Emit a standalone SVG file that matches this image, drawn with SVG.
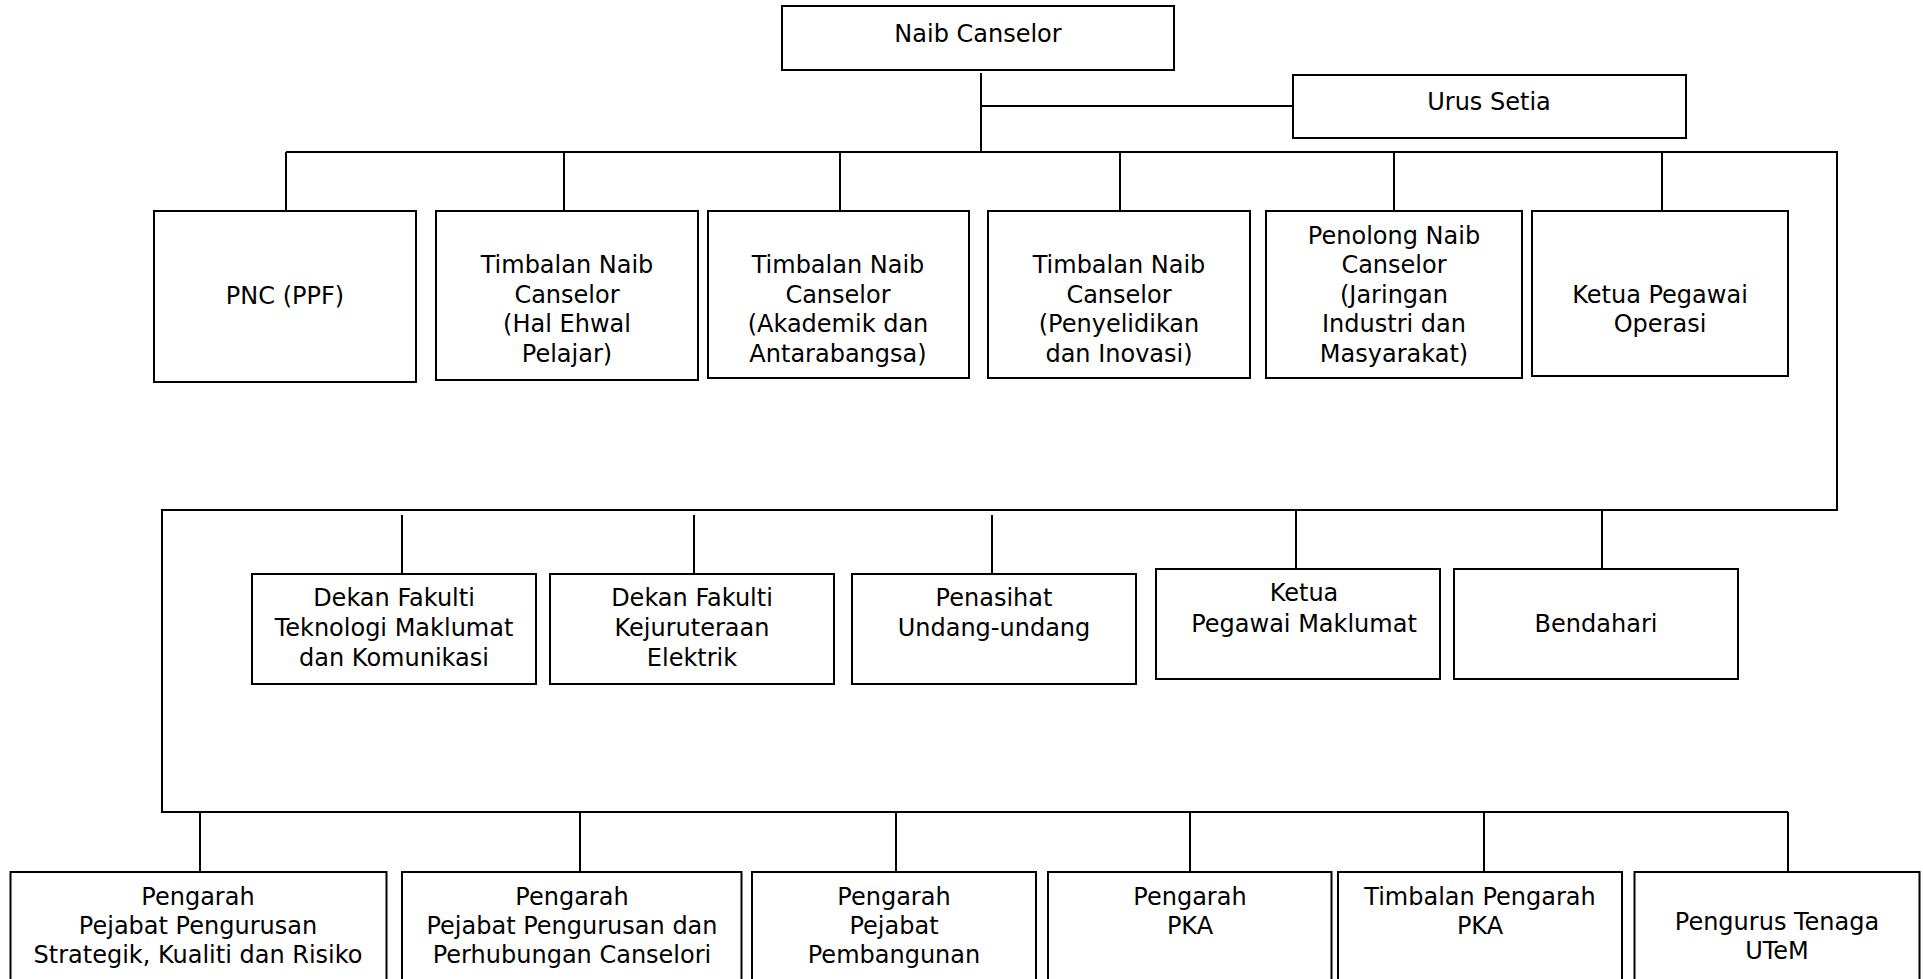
<svg xmlns="http://www.w3.org/2000/svg" width="1923" height="979" viewBox="0 0 1923 979">
  <style>
    .box { fill: #ffffff; stroke: #000000; stroke-width: 2; }
    .lbl { font-family: "DejaVu Sans", Verdana, sans-serif; font-size: 24px; fill: #000000; text-anchor: middle; }
    .wire { fill: none; stroke: #000000; stroke-width: 2; }
  </style>
  <rect x="0" y="0" width="1923" height="979" fill="#ffffff"/>

  <!-- connectors -->
  <g id="connectors" class="wire">
    <!-- Naib Canselor down to the first bus, with Urus Setia branch -->
    <line x1="981" y1="73" x2="981" y2="152"/>
    <line x1="981" y1="106" x2="1293" y2="106"/>
    <!-- first bus and drops -->
    <line x1="286" y1="152" x2="1837" y2="152"/>
    <line x1="286" y1="152" x2="286" y2="211"/>
    <line x1="564" y1="152" x2="564" y2="211"/>
    <line x1="840" y1="152" x2="840" y2="211"/>
    <line x1="1120" y1="152" x2="1120" y2="211"/>
    <line x1="1394" y1="152" x2="1394" y2="211"/>
    <line x1="1662" y1="152" x2="1662" y2="211"/>
    <!-- run down the right side to the second bus -->
    <line x1="1837" y1="151" x2="1837" y2="510"/>
    <line x1="162" y1="510" x2="1838" y2="510"/>
    <line x1="402" y1="515" x2="402" y2="574"/>
    <line x1="694" y1="515" x2="694" y2="574"/>
    <line x1="992" y1="515" x2="992" y2="574"/>
    <line x1="1296" y1="510" x2="1296" y2="569"/>
    <line x1="1602" y1="510" x2="1602" y2="569"/>
    <!-- run down the left side to the third bus -->
    <line x1="162" y1="509" x2="162" y2="812"/>
    <line x1="161" y1="812" x2="1788" y2="812"/>
    <line x1="200" y1="812" x2="200" y2="872"/>
    <line x1="580" y1="812" x2="580" y2="872"/>
    <line x1="896" y1="812" x2="896" y2="872"/>
    <line x1="1190" y1="812" x2="1190" y2="872"/>
    <line x1="1484" y1="812" x2="1484" y2="872"/>
    <line x1="1788" y1="812" x2="1788" y2="872"/>
  </g>

  <!-- top level -->
  <g id="naib-canselor">
    <rect class="box" x="782" y="6" width="392" height="64"/>
    <text class="lbl" x="978" y="42">Naib Canselor</text>
  </g>
  <g id="urus-setia">
    <rect class="box" x="1293" y="75" width="393" height="63"/>
    <text class="lbl" x="1489" y="110">Urus Setia</text>
  </g>

  <!-- first row -->
  <g id="pnc-ppf">
    <rect class="box" x="154" y="211" width="262" height="171"/>
    <text class="lbl" x="285" y="304">PNC (PPF)</text>
  </g>
  <g id="tnc-hep">
    <rect class="box" x="436" y="211" width="262" height="169"/>
    <text class="lbl" x="567" y="273">Timbalan Naib</text>
    <text class="lbl" x="567" y="303">Canselor</text>
    <text class="lbl" x="567" y="332">(Hal Ehwal</text>
    <text class="lbl" x="567" y="362">Pelajar)</text>
  </g>
  <g id="tnc-akademik">
    <rect class="box" x="708" y="211" width="261" height="167"/>
    <text class="lbl" x="838" y="273">Timbalan Naib</text>
    <text class="lbl" x="838" y="303">Canselor</text>
    <text class="lbl" x="838" y="332">(Akademik dan</text>
    <text class="lbl" x="838" y="362">Antarabangsa)</text>
  </g>
  <g id="tnc-penyelidikan">
    <rect class="box" x="988" y="211" width="262" height="167"/>
    <text class="lbl" x="1119" y="273">Timbalan Naib</text>
    <text class="lbl" x="1119" y="303">Canselor</text>
    <text class="lbl" x="1119" y="332">(Penyelidikan</text>
    <text class="lbl" x="1119" y="362">dan Inovasi)</text>
  </g>
  <g id="pnc-jaringan">
    <rect class="box" x="1266" y="211" width="256" height="167"/>
    <text class="lbl" x="1394" y="244">Penolong Naib</text>
    <text class="lbl" x="1394" y="273">Canselor</text>
    <text class="lbl" x="1394" y="303">(Jaringan</text>
    <text class="lbl" x="1394" y="332">Industri dan</text>
    <text class="lbl" x="1394" y="362">Masyarakat)</text>
  </g>
  <g id="ketua-pegawai-operasi">
    <rect class="box" x="1532" y="211" width="256" height="165"/>
    <text class="lbl" x="1660" y="303">Ketua Pegawai</text>
    <text class="lbl" x="1660" y="332">Operasi</text>
  </g>

  <!-- second row -->
  <g id="dekan-ftmk">
    <rect class="box" x="252" y="574" width="284" height="110"/>
    <text class="lbl" x="394" y="606">Dekan Fakulti</text>
    <text class="lbl" x="394" y="636">Teknologi Maklumat</text>
    <text class="lbl" x="394" y="666">dan Komunikasi</text>
  </g>
  <g id="dekan-fke">
    <rect class="box" x="550" y="574" width="284" height="110"/>
    <text class="lbl" x="692" y="606">Dekan Fakulti</text>
    <text class="lbl" x="692" y="636">Kejuruteraan</text>
    <text class="lbl" x="692" y="666">Elektrik</text>
  </g>
  <g id="penasihat-undang-undang">
    <rect class="box" x="852" y="574" width="284" height="110"/>
    <text class="lbl" x="994" y="606">Penasihat</text>
    <text class="lbl" x="994" y="636">Undang-undang</text>
  </g>
  <g id="ketua-pegawai-maklumat">
    <rect class="box" x="1156" y="569" width="284" height="110"/>
    <text class="lbl" x="1304" y="601">Ketua</text>
    <text class="lbl" x="1304" y="632">Pegawai Maklumat</text>
  </g>
  <g id="bendahari">
    <rect class="box" x="1454" y="569" width="284" height="110"/>
    <text class="lbl" x="1596" y="632">Bendahari</text>
  </g>

  <!-- third row -->
  <g id="pengarah-psqr">
    <rect class="box" x="10.5" y="872" width="376" height="140"/>
    <text class="lbl" x="198" y="905">Pengarah</text>
    <text class="lbl" x="198" y="934">Pejabat Pengurusan</text>
    <text class="lbl" x="198" y="963">Strategik, Kualiti dan Risiko</text>
  </g>
  <g id="pengarah-pphc">
    <rect class="box" x="402" y="872" width="339.5" height="140"/>
    <text class="lbl" x="572" y="905">Pengarah</text>
    <text class="lbl" x="572" y="934">Pejabat Pengurusan dan</text>
    <text class="lbl" x="572" y="963">Perhubungan Canselori</text>
  </g>
  <g id="pengarah-pembangunan">
    <rect class="box" x="752" y="872" width="284" height="140"/>
    <text class="lbl" x="894" y="905">Pengarah</text>
    <text class="lbl" x="894" y="934">Pejabat</text>
    <text class="lbl" x="894" y="963">Pembangunan</text>
  </g>
  <g id="pengarah-pka">
    <rect class="box" x="1048" y="872" width="283.5" height="140"/>
    <text class="lbl" x="1190" y="905">Pengarah</text>
    <text class="lbl" x="1190" y="934">PKA</text>
  </g>
  <g id="timbalan-pengarah-pka">
    <rect class="box" x="1338" y="872" width="284" height="140"/>
    <text class="lbl" x="1480" y="905">Timbalan Pengarah</text>
    <text class="lbl" x="1480" y="934">PKA</text>
  </g>
  <g id="pengurus-tenaga">
    <rect class="box" x="1634.5" y="872" width="285" height="140"/>
    <text class="lbl" x="1777" y="930">Pengurus Tenaga</text>
    <text class="lbl" x="1777" y="959">UTeM</text>
  </g>
</svg>
